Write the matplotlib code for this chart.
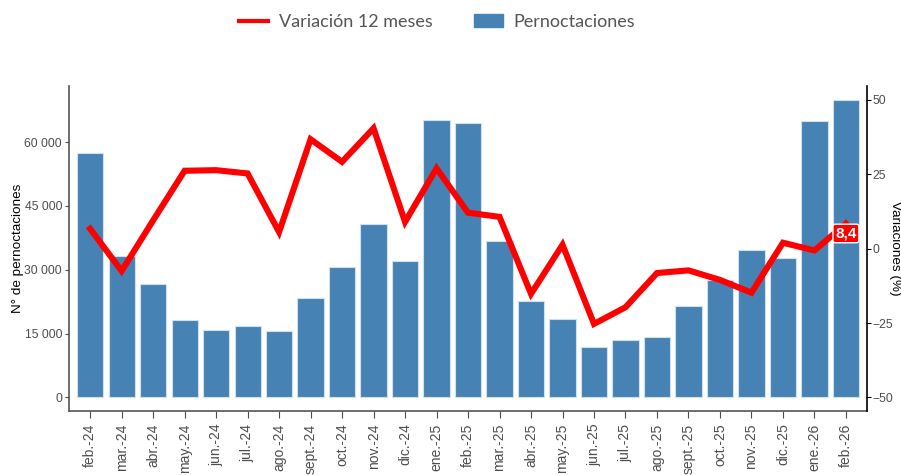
import matplotlib
matplotlib.use("Agg")
import matplotlib.pyplot as plt
from matplotlib.ticker import FuncFormatter
from matplotlib.lines import Line2D
from matplotlib.patches import Patch

# datos
meses = ["feb.-24", "mar.-24", "abr.-24", "may.-24", "jun.-24", "jul.-24", "ago.-24",
         "sept.-24", "oct.-24", "nov.-24", "dic.-24", "ene.-25", "feb.-25", "mar.-25",
         "abr.-25", "may.-25", "jun.-25", "jul.-25", "ago.-25", "sept.-25", "oct.-25",
         "nov.-25", "dic.-25", "ene.-26", "feb.-26"]
pernoctaciones = [57400, 33200, 26600, 18100, 15900, 16700, 15600, 23300, 30700, 40700,
                  32000, 65300, 64400, 36700, 22600, 18350, 11850, 13400, 14300, 21600,
                  27500, 34600, 32800, 64900, 69800]
variacion = [6.7, -7.5, 9.5, 26.2, 26.4, 25.3, 5.6, 36.8, 29.2, 40.5, 9.0, 27.0, 12.1,
             10.7, -15.2, 1.3, -25.3, -19.7, -8.2, -7.3, -10.5, -14.8, 2.0, -0.6, 8.4]

plt.rcParams["font.family"] = ["Liberation Sans", "DejaVu Sans"]
gris = "#4d4d4d"

fig = plt.figure(figsize=(9.01, 4.75), dpi=100)
ax = fig.add_axes([0.0766, 0.1347, 0.8857, 0.6842])
x = list(range(len(meses)))
ax.bar(x, pernoctaciones, width=0.83, color="#4682B4", edgecolor="#cfe0f0", linewidth=0.8)
ax.set_xlim(-0.67, 24.67)
ax.set_ylim(-3200, 73200)
ax.set_yticks([0, 15000, 30000, 45000, 60000])
ax.yaxis.set_major_formatter(FuncFormatter(lambda v, p: f"{int(v):,}".replace(",", " ")))
ax.set_xticks(x)
ax.set_xticklabels(meses, rotation=90, fontsize=10, color=gris)
ax.tick_params(axis="y", labelsize=8.7, labelcolor=gris, color=gris, length=3, pad=2)
ax.tick_params(axis="x", color=gris, length=5, pad=4)
ax.set_ylabel("N° de pernoctaciones", fontsize=9.7, labelpad=0)
for s in ["top", "right"]:
    ax.spines[s].set_visible(False)
ax.spines["left"].set_color("#555555")
ax.spines["bottom"].set_color("#555555")
ax.spines["left"].set_linewidth(1.2)
ax.spines["bottom"].set_linewidth(1.2)

ax2 = ax.twinx()
ax2.plot(x, variacion, color="red", linewidth=4.4, solid_joinstyle="miter")
ax2.set_ylim(-54.6, 54.7)
ax2.set_yticks([-50, -25, 0, 25, 50])
ax2.tick_params(axis="y", labelsize=8.7, labelcolor=gris, color="black", length=3, pad=1)
ax2.set_ylabel("Variaciones (%)", fontsize=9.7, rotation=270, ha="center", va="center")
ax2.yaxis.set_label_coords(1.035, 0.5)
for s in ["top", "left", "bottom"]:
    ax2.spines[s].set_visible(False)
ax2.spines["right"].set_linewidth(1.2)

ax2.annotate(f"{variacion[-1]:.1f}".replace(".", ","), (x[-1], variacion[-1]),
             xytext=(0, -2), textcoords="offset points", ha="center", va="top",
             fontsize=11, color="white", fontweight="bold",
             bbox=dict(boxstyle="round,pad=0.15", fc="red", ec="white", lw=1))

handles = [Line2D([], [], color="red", linewidth=3),
           Patch(facecolor="#4682B4", edgecolor="#4682B4")]
fig.legend(handles, ["Variación 12 meses", "Pernoctaciones"], loc="upper center",
           bbox_to_anchor=(0.485, 1.005), ncol=2, frameon=False,
           labelcolor="#555555", columnspacing=2.3, handlelength=1.6, handletextpad=0.6,
           prop={"family": "Lato", "size": 13})

fig.savefig("out.png", dpi=100)
